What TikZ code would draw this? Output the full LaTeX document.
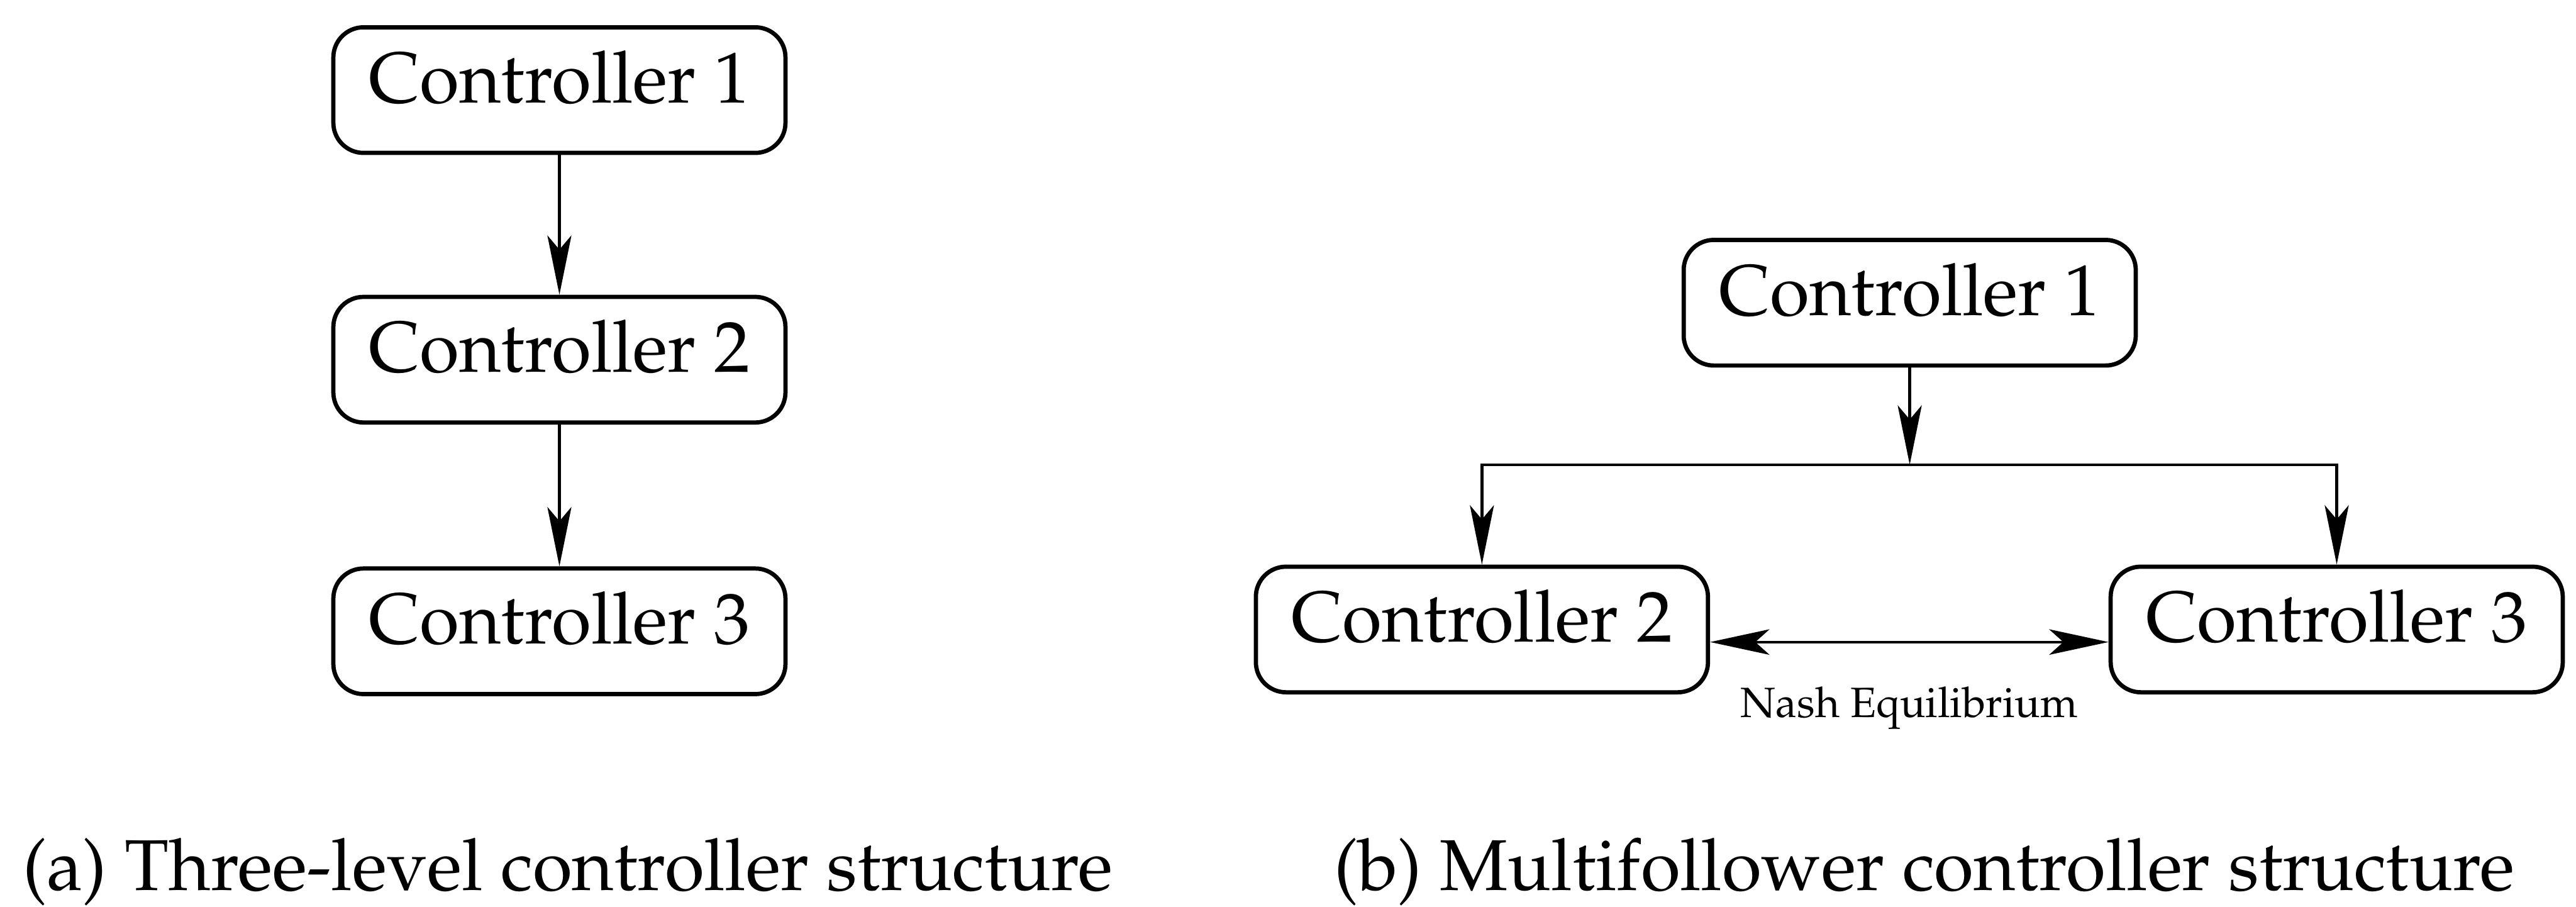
\documentclass[tikz,border=0pt]{standalone}
\usepackage[T1]{fontenc}
\usepackage{mathpazo}
\usetikzlibrary{
    arrows.meta,
    calc
}

\begin{document}
\begin{tikzpicture}[
    ctrl/.style={draw, line width=0.6pt, rounded corners=0.15cm,
        minimum width=2.25cm, inner xsep=2pt, inner ysep=0pt,
        text height=0.375cm, text depth=0.25cm,
        font=\fontsize{10.2}{12}\selectfont},
    flow/.style={line width=0.4pt, -{Stealth[length=8.4pt,width=3.4pt,inset=2pt]}},
    flowboth/.style={line width=0.4pt, {Stealth[length=8.4pt,width=3.6pt,inset=2pt]}-{Stealth[length=8.4pt,width=3.6pt,inset=2pt]}},
    caption/.style={anchor=base west, inner sep=0pt, font=\fontsize{10.2}{12}\selectfont},
    small/.style={anchor=base, inner sep=0pt, font=\fontsize{6}{7}\selectfont}
]
\useasboundingbox (0,0) rectangle (12.82,4.5125);

% (a) three levels, one below the other
\node[ctrl] (c1a) at (2.784,4.064) {Controller 1};
\node[ctrl] (c2a) at (2.784,2.7225) {Controller 2};
\node[ctrl] (c3a) at (2.784,1.371) {Controller 3};

\draw[flow] (c1a) -- (c2a);
\draw[flow] (c2a) -- (c3a);

% (b) one leader, two followers
\node[ctrl] (c1b) at (9.504,3.006) {Controller 1};
\node[ctrl] (c2b) at (7.375,1.38) {Controller 2};
\node[ctrl] (c3b) at (11.629,1.38) {Controller 3};

\coordinate (bus) at (9.504,2.2);
\draw[flow] (c1b) -- (bus);
\draw[flow] (bus) -| (c2b.north);
\draw[flow] (bus) -| (c3b.north);

% followers play against each other
\draw[flowboth] (c2b.base east) -- (c3b.base west);
\node[small] (nash) at ($(c2b.base east)!0.5!(c3b.base west)+(0,-0.375)$) {Nash Equilibrium};

% Captions
\node[caption] (capa) at (0.1075,0.0825) {(a) Three-level controller structure};
\node[caption] (capb) at (6.6325,0.0825) {(b) Multifollower controller structure};

\end{tikzpicture}
\end{document}
